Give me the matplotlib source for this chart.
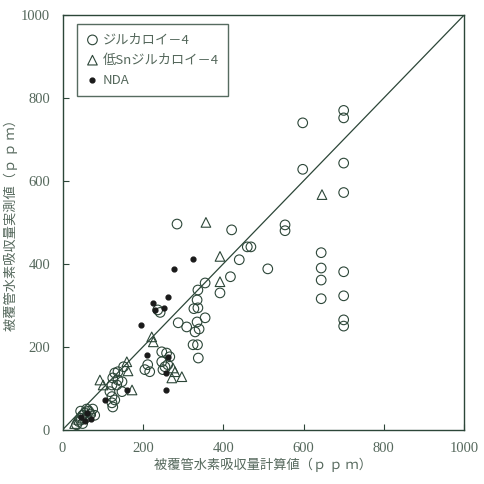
import matplotlib
matplotlib.use("Agg")
from matplotlib import pyplot as plt

# ジルカロイ-4 (calculated, measured)
zry_x = [700, 700, 598, 598, 700, 700, 554, 554, 644, 644, 644, 644, 700, 700, 700, 700,
         421, 460, 469, 440, 511, 418, 285, 355, 392, 337, 335, 337, 327, 355, 335, 288,
         309, 340, 330, 325, 336, 338, 243, 237,
         212, 217, 205, 247, 259, 267, 247, 255, 262, 250, 152, 138, 130, 125, 138, 123,
         135, 148, 118, 148, 123, 130, 123, 125,
         40, 45, 50, 55, 60, 65, 70, 50, 35, 75, 80, 60, 45]
zry_y = [770, 752, 740, 628, 643, 572, 494, 480, 427, 390, 361, 316, 381, 323, 265, 250,
         482, 441, 441, 410, 388, 369, 496, 354, 330, 337, 313, 294, 292, 270, 260, 258,
         248, 243, 236, 205, 205, 173, 283, 289,
         157, 140, 145, 188, 185, 176, 164, 152, 157, 145, 152, 140, 137, 125, 120, 108,
         108, 116, 92, 92, 80, 72, 65, 55,
         20, 28, 35, 40, 30, 45, 38, 15, 12, 50, 35, 50, 45]

# 低Snジルカロイ-4
lsn_x = [646, 357, 392, 392, 222, 226, 275, 280, 297, 272, 160, 163, 93, 101, 173,
         40, 55, 70, 30]
lsn_y = [567, 500, 418, 357, 224, 212, 149, 140, 128, 125, 164, 142, 120, 108, 96,
         25, 35, 45, 15]

# NDA
nda_x = [324, 277, 262, 225, 230, 252, 195, 210, 262, 258, 257, 160, 105, 55, 70, 60, 45]
nda_y = [412, 388, 320, 306, 289, 294, 253, 180, 176, 137, 96, 96, 72, 20, 25, 40, 30]

ticks = [0, 200, 400, 600, 800, 1000]
tick_labels = ["0", "200", "400", "600", "800", "1000"]

ink = "#2c4638"
txt = "#55685c"
jp = ["Noto Sans CJK JP", "DejaVu Sans"]

fig = plt.figure(figsize=(4.85, 4.84), dpi=100)
ax = fig.add_axes([0.129, 0.112, 0.828, 0.857])

ax.plot([0, 1000], [0, 1000], color=ink, lw=0.9)
ax.scatter(zry_x, zry_y, s=48, facecolors="none", edgecolors=ink, linewidths=0.8,
           label="ジルカロイ－4", zorder=3)
ax.scatter(lsn_x, lsn_y, s=48, marker="^", facecolors="none", edgecolors=ink,
           linewidths=0.8, label="低Snジルカロイ－4", zorder=3)
ax.scatter(nda_x, nda_y, s=12, color="#1a1a1a", label="NDA", zorder=4)

ax.set_xlim(0, 1000)
ax.set_ylim(0, 1000)
ax.set_xticks(ticks, labels=tick_labels, fontfamily="Liberation Serif")
ax.set_yticks(ticks, labels=tick_labels, fontfamily="Liberation Serif")
ax.tick_params(direction="in", length=4, color=ink, labelcolor=txt, labelsize=10.5, pad=9)
for s in ax.spines.values():
    s.set_color(ink)
    s.set_linewidth(1.0)

ax.set_xlabel("被覆管水素吸収量計算値（ｐ ｐ ｍ）", family=jp, color=txt, fontsize=9.5, labelpad=2)
ax.set_ylabel("被覆管水素吸収量実測値（ｐ ｐ ｍ）", family=jp, color=txt, fontsize=9.5, labelpad=2)

leg = ax.legend(loc="upper left", bbox_to_anchor=(0.035, 0.978), fancybox=False,
                edgecolor=ink, handletextpad=0.3, handlelength=1.0, borderpad=0.7,
                borderaxespad=0.0, labelspacing=0.55,
                prop={"family": ["Noto Sans CJK JP", "Liberation Serif"], "size": 9.5})
leg.get_frame().set_linewidth(1.0)
for t in leg.get_texts():
    t.set_color(txt)

fig.savefig("out.png", dpi=100)
